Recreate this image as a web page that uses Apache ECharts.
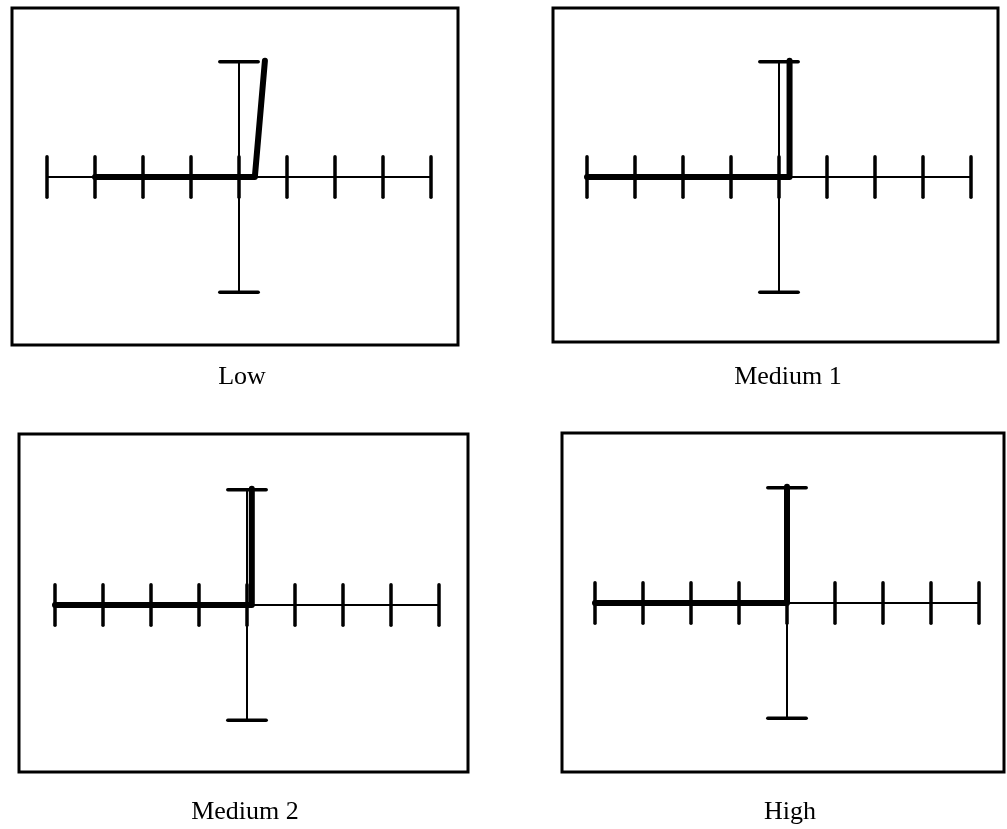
<!DOCTYPE html>
<html>
<head>
<meta charset="utf-8">
<script src="https://cdn.jsdelivr.net/npm/echarts@6/dist/echarts.min.js"></script>
<style>html,body{margin:0;padding:0;background:#fff;}#c{width:1007px;height:829px;}</style>
</head>
<body>
<div id="c"></div>
<script>
// ---- data ----
const categories = ['Low', 'Medium 1', 'Medium 2', 'High'];
const divisions = [-4, -3, -2, -1, 0, 1, 2, 3, 4];     // horizontal graticule ticks
const verticalExtent = 2.4;                            // vertical axis half-length (div)
const tickHalf = 0.42;                                 // tick half-length (div)
const capHalf = 0.4;                                   // end-cap half-width (div)
const traceLow     = [[-3, 0], [0.33, 0], [0.54, 2.42]];
const traceMedium1 = [[-4, 0], [0.22, 0], [0.22, 2.42]];
const traceMedium2 = [[-4, 0], [0.1, 0], [0.1, 2.42]];
const traceHigh    = [[-4, 0], [0, 0], [0, 2.42]];
const traces = [traceLow, traceMedium1, traceMedium2, traceHigh];

// ---- layout (pixels) ----
const pxPerDiv = 48;
const frames = [
  {left: 12,  right: 458,  top: 8,   bottom: 345, cx: 239, cy: 177, lx: 242, ly: 377},
  {left: 553, right: 998,  top: 8,   bottom: 342, cx: 779, cy: 177, lx: 788, ly: 377},
  {left: 19,  right: 468,  top: 434, bottom: 772, cx: 247, cy: 605, lx: 245, ly: 812},
  {left: 562, right: 1004, top: 433, bottom: 772, cx: 787, cy: 603, lx: 790, ly: 812}
];

// graticule segments built from the arrays above
const axisSegments = [
  [divisions[0], 0, divisions[divisions.length - 1], 0],
  [0, -verticalExtent, 0, verticalExtent]
];
const tickSegments = divisions.map(d => [d, -tickHalf, d, tickHalf]).concat([
  [-capHalf, verticalExtent, capHalf, verticalExtent],
  [-capHalf, -verticalExtent, capHalf, -verticalExtent]
]);

function segRender(width) {
  return function (params, api) {
    const p1 = api.coord([api.value(0), api.value(1)]);
    const p2 = api.coord([api.value(2), api.value(3)]);
    return {type: 'line', shape: {x1: p1[0], y1: p1[1], x2: p2[0], y2: p2[1]},
            style: {stroke: '#000', lineWidth: width, lineCap: 'round'}};
  };
}

const grid = [], xAxis = [], yAxis = [], series = [], graphic = [];
frames.forEach((f, i) => {
  grid.push({left: f.left, top: f.top, width: f.right - f.left, height: f.bottom - f.top,
             show: true, borderColor: '#000', borderWidth: 3, backgroundColor: 'transparent'});
  xAxis.push({type: 'value', gridIndex: i, show: false,
              min: -(f.cx - f.left) / pxPerDiv, max: (f.right - f.cx) / pxPerDiv});
  yAxis.push({type: 'value', gridIndex: i, show: false,
              min: -(f.bottom - f.cy) / pxPerDiv, max: (f.cy - f.top) / pxPerDiv});
  series.push({type: 'custom', xAxisIndex: i, yAxisIndex: i, renderItem: segRender(2),
               data: axisSegments, silent: true, clip: false});
  series.push({type: 'custom', xAxisIndex: i, yAxisIndex: i, renderItem: segRender(3.5),
               data: tickSegments, silent: true, clip: false});
  series.push({type: 'line', xAxisIndex: i, yAxisIndex: i, data: traces[i], symbol: 'none',
               silent: true, lineStyle: {color: '#000', width: 6, cap: 'round', join: 'round'}});
  graphic.push({type: 'text', x: f.lx, y: f.ly, z: 10,
                style: {text: categories[i], font: '26px "Liberation Serif", serif', fill: '#000',
                        textAlign: 'center', textVerticalAlign: 'middle'}});
});

const chart = echarts.init(document.getElementById('c'), null, {renderer: 'canvas'});
chart.setOption({animation: false, backgroundColor: '#fff', grid, xAxis, yAxis, series, graphic});
</script>
</body>
</html>
